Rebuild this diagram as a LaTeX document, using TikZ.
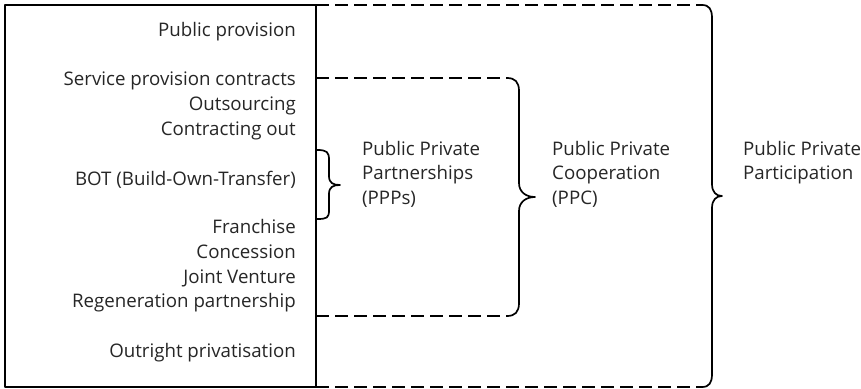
\documentclass[tikz,border=0pt]{standalone}
\usepackage{fontspec}
\setmainfont{Open Sans}
\begin{document}
\begin{tikzpicture}[x=1pt,y=-1pt,
  lbl/.style={inner sep=0pt,font=\fontsize{18.7}{24.5}\selectfont,text=black!85},
  item/.style={lbl,anchor=base east},
  grp/.style={lbl,anchor=base west,align=left},
  solidline/.style={line width=1.7pt,line join=round},
  dashline/.style={line width=1.7pt,dash pattern=on 13pt off 6pt},
  dashthick/.style={line width=2.4pt,dash pattern=on 13pt off 6pt}]
\useasboundingbox (0,0) rectangle (861,388);
% box
\draw[solidline] (5,5) rectangle (316,387);
\coordinate (bTR) at (316,5);
\coordinate (bBR) at (316,387);
% items
\node[item] (i1) at (296,36) {Public provision};
\node[item] (i2) at (296,85) {Service provision contracts};
\node[item] (i3) at (296,110) {Outsourcing};
\node[item] (i4) at (296,135) {Contracting out};
\node[item] (i5) at (296,185) {BOT (Build-Own-Transfer)};
\node[item] (i6) at (296,233) {Franchise};
\node[item] (i7) at (296,258) {Concession};
\node[item] (i8) at (296,283) {Joint Venture};
\node[item] (i9) at (296,307) {Regeneration partnership};
\node[item] (i10) at (296,357) {Outright privatisation};
% group labels (anchored at the baseline of the last line)
\node[grp] (ppp) at (362,204) {Public Private\\Partnerships\\(PPPs)};
\node[grp] (ppc) at (552,204) {Public Private\\Cooperation\\(PPC)};
\node[grp] (ppa) at (743,179.5) {Public Private\\Participation};
% small brace
\coordinate (s1) at (317,150);
\coordinate (s2) at (317,219);
\draw[solidline] (s1) .. controls (327,150) and (329,152) .. (329,160)
  -- (329,176) .. controls (329,183) and (333,185) .. (340,185)
  .. controls (333,185) and (329,187) .. (329,194)
  -- (329,210) .. controls (329,218) and (327,219) .. (s2);
% middle brace
\coordinate (m1) at (316,78);
\coordinate (m1e) at (507,78);
\coordinate (m2) at (316,316);
\coordinate (m2e) at (507,316);
\draw[dashthick] (m1) -- (m1e);
\draw[dashthick] (m2) -- (m2e);
\draw[solidline] (m1e) .. controls (515,78) and (519,82) .. (519,91)
  -- (519,183) .. controls (519,192) and (526,197) .. (535,197)
  .. controls (526,197) and (519,202) .. (519,211)
  -- (519,303) .. controls (519,312) and (515,316) .. (m2e);
% outer brace
\coordinate (o1e) at (702,5);
\coordinate (o2e) at (702,387);
\draw[dashline] (bTR) -- (o1e);
\draw[dashline] (bBR) -- (o2e);
\draw[solidline] (o1e) .. controls (709,5) and (712,9) .. (712,18)
  -- (712,184) .. controls (712,192) and (716,196) .. (722,196)
  .. controls (716,196) and (712,200) .. (712,208)
  -- (712,374) .. controls (712,383) and (709,387) .. (o2e);
\end{tikzpicture}
\end{document}
